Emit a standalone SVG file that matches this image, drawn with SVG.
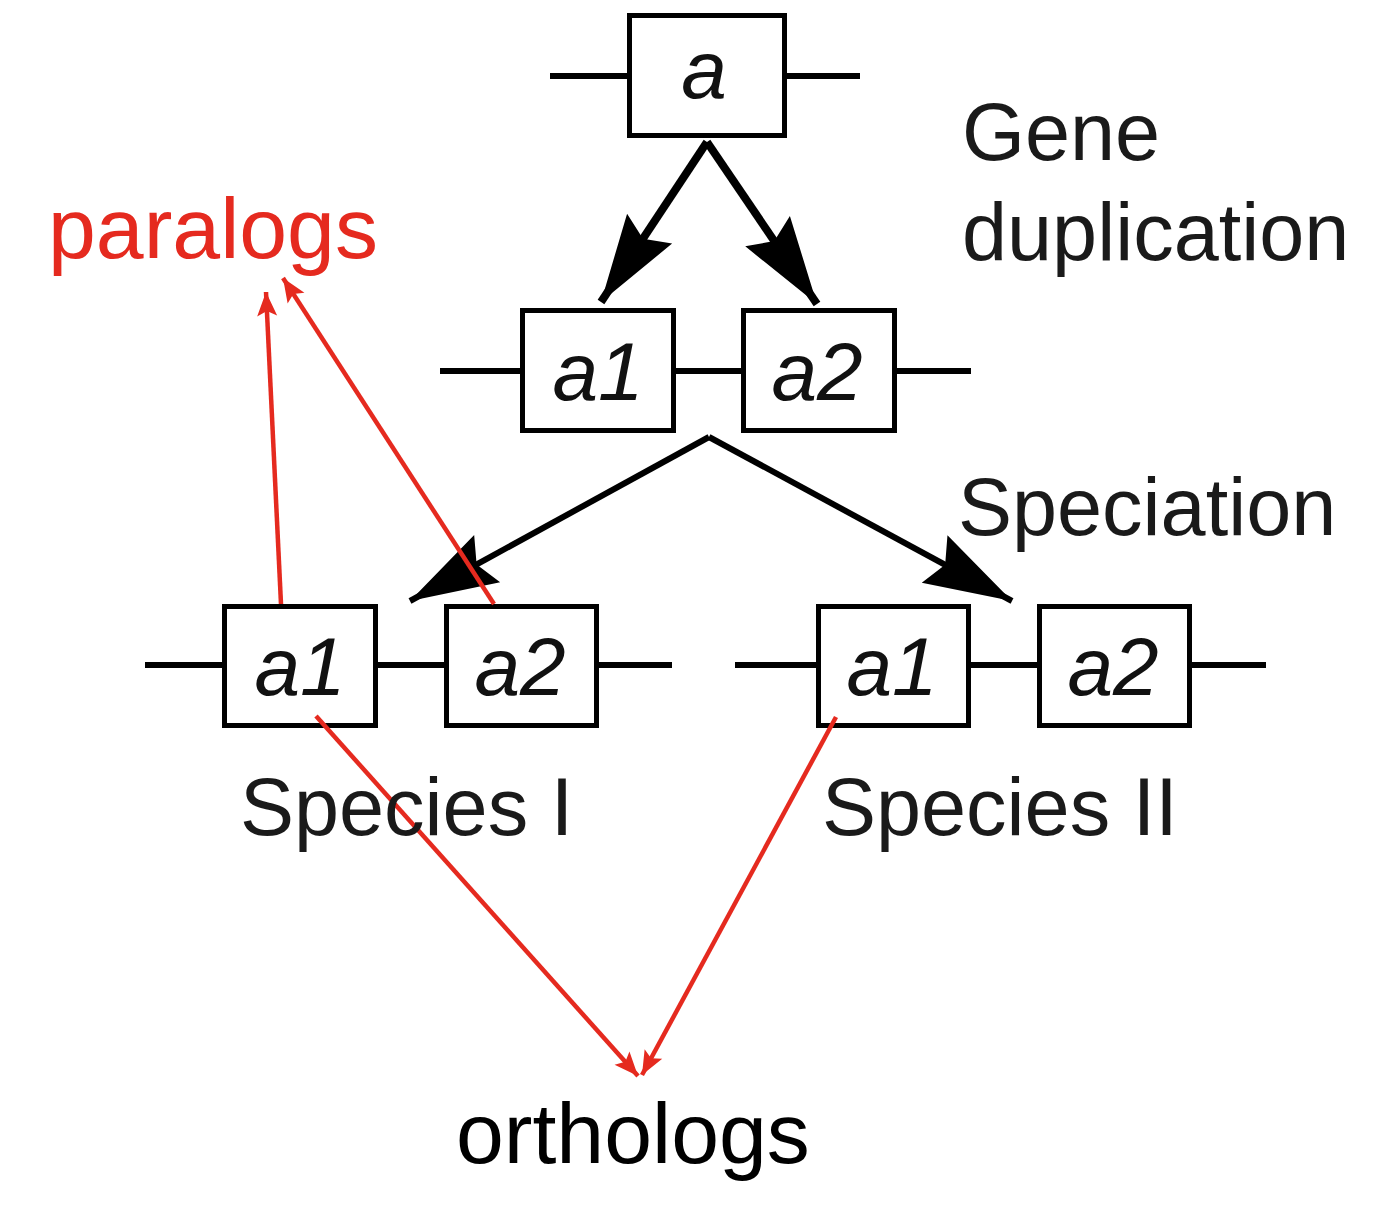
<svg xmlns="http://www.w3.org/2000/svg" width="1384" height="1208" viewBox="0 0 1384 1208">
<style>
.box{fill:#fff;stroke:#000;stroke-width:5}
.chr{stroke:#000;stroke-width:6;fill:none}
.gl{font-family:"Liberation Sans",Arial,sans-serif;font-style:italic;font-size:82px;fill:#111;text-anchor:middle}
.lab{font-family:"Liberation Sans",Arial,sans-serif;font-size:81px;fill:#1a1a1a}
.big{font-family:"Liberation Sans",Arial,sans-serif;font-size:86px}
.blk{stroke:#000;stroke-width:6;fill:none}
.blk2{stroke:#000;stroke-width:8;fill:none}
.red{stroke:#e52a1f;stroke-width:4.5;fill:none}
</style>
<defs>
<marker id="ab" markerUnits="userSpaceOnUse" viewBox="-90 -30 92 60" refX="0" refY="0" markerWidth="92" markerHeight="60" orient="auto">
<path d="M0,0 L-88,-27 L-76,0 L-88,27 Z" fill="#000"/>
</marker>
<marker id="ar" markerUnits="userSpaceOnUse" viewBox="-26 -12 28 24" refX="0" refY="0" markerWidth="28" markerHeight="24" orient="auto">
<path d="M0,0 L-24,-10 L-19,0 L-24,10 Z" fill="#e52a1f"/>
</marker>
</defs>

<g id="chromosomes">
<line class="chr" x1="550" y1="76" x2="860" y2="76"/>
<line class="chr" x1="440" y1="371" x2="971" y2="371"/>
<line class="chr" x1="145" y1="665" x2="672" y2="665"/>
<line class="chr" x1="735" y1="665" x2="1266" y2="665"/>
</g>

<g id="node-a">
<rect class="box" x="629.5" y="15.5" width="155" height="120"/>
<text class="gl" x="704" y="98">a</text>
</g>
<g id="node-mid-a1">
<rect class="box" x="522.5" y="310.5" width="151" height="120"/>
<text class="gl" x="598" y="400">a1</text>
</g>
<g id="node-mid-a2">
<rect class="box" x="743.5" y="310.5" width="151" height="120"/>
<text class="gl" x="817" y="400">a2</text>
</g>
<g id="node-s1-a1">
<rect class="box" x="224.5" y="606.5" width="151" height="119"/>
<text class="gl" x="300" y="695">a1</text>
</g>
<g id="node-s1-a2">
<rect class="box" x="446.5" y="606.5" width="150" height="119"/>
<text class="gl" x="520" y="695">a2</text>
</g>
<g id="node-s2-a1">
<rect class="box" x="818.5" y="606.5" width="150" height="119"/>
<text class="gl" x="892" y="695">a1</text>
</g>
<g id="node-s2-a2">
<rect class="box" x="1039.5" y="606.5" width="150" height="119"/>
<text class="gl" x="1113" y="695">a2</text>
</g>

<g id="connectors">
<line class="blk2" x1="707" y1="142" x2="601" y2="302" marker-end="url(#ab)"/>
<line class="blk2" x1="707" y1="142" x2="817" y2="304" marker-end="url(#ab)"/>
<line class="blk" x1="709" y1="437" x2="410" y2="601" marker-end="url(#ab)"/>
<line class="blk" x1="709" y1="437" x2="1012" y2="601" marker-end="url(#ab)"/>
<line class="red" x1="281" y1="604" x2="266" y2="292" marker-end="url(#ar)"/>
<line class="red" x1="494" y1="604" x2="283" y2="278" marker-end="url(#ar)"/>
<line class="red" x1="316" y1="716" x2="638" y2="1076" marker-end="url(#ar)"/>
<line class="red" x1="836" y1="717" x2="642" y2="1075" marker-end="url(#ar)"/>
</g>

<g id="labels">
<text class="lab" x="962" y="160">Gene</text>
<text class="lab" x="962" y="260">duplication</text>
<text class="lab" x="958" y="535">Speciation</text>
<text class="lab" x="240" y="835">Species I</text>
<text class="lab" x="822" y="835">Species II</text>
<text class="big" x="48" y="258" fill="#e52a1f">paralogs</text>
<text class="big" x="456" y="1163" fill="#000">orthologs</text>
</g>
</svg>
